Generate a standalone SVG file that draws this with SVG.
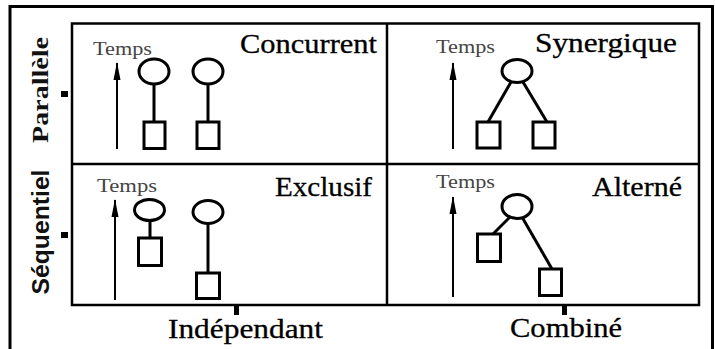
<svg xmlns="http://www.w3.org/2000/svg" width="715" height="349" viewBox="0 0 715 349">
  <style>
    .frame { fill: none; stroke: #000; stroke-width: 3; }
    .grid { fill: none; stroke: #000; stroke-width: 2.5; }
    .shape { fill: #fff; stroke: #000; stroke-width: 3; }
    .link { fill: none; stroke: #000; stroke-width: 3; }
    .axis { fill: none; stroke: #000; stroke-width: 2; }
    .tick { fill: #000; }
    .title { font-family: "Liberation Serif", "Times New Roman", serif; font-size: 27px; fill: #000; stroke: #000; stroke-width: 0.3; }
    .time { font-family: "Liberation Serif", "Times New Roman", serif; font-size: 19px; fill: #444; }
    .row { font-family: "Liberation Serif", "Times New Roman", serif; font-size: 24px; font-weight: bold; fill: #111; }
    .row-sans { font-family: "Liberation Sans", Arial, sans-serif; font-size: 23px; font-weight: bold; fill: #111; }
    .col { font-family: "Liberation Serif", "Times New Roman", serif; font-size: 28px; fill: #000; stroke: #000; stroke-width: 0.3; }
  </style>
  <defs>
    <marker id="arrow" viewBox="0 0 18 8" refX="17" refY="4" markerWidth="18" markerHeight="8" markerUnits="userSpaceOnUse" orient="auto">
      <path d="M0 0.5 L18 4 L0 7.5 Z" fill="#000"/>
    </marker>
  </defs>

  <!-- page frame -->
  <path class="frame" d="M10 349 V6.5 H712.5 V349"/>

  <!-- 2x2 grid -->
  <g id="grid">
    <rect class="grid" x="72" y="23.5" width="627" height="281.5"/>
    <line class="grid" x1="387" y1="23.5" x2="387" y2="305"/>
    <line class="grid" x1="72" y1="164" x2="699" y2="164"/>
    <rect class="tick" x="61" y="91" width="7" height="6"/>
    <rect class="tick" x="61" y="232" width="7" height="6"/>
    <rect class="tick" x="234" y="306" width="5" height="9"/>
    <rect class="tick" x="562" y="306" width="5" height="9"/>
  </g>

  <!-- axis labels -->
  <g id="label-parallele"><text class="row" transform="translate(48,90) rotate(-90)" text-anchor="middle" textLength="106" lengthAdjust="spacingAndGlyphs">Parallèle</text></g>
  <g id="label-sequentiel"><text class="row-sans" transform="translate(49,232) rotate(-90)" text-anchor="middle" textLength="125" lengthAdjust="spacingAndGlyphs">Séquentiel</text></g>
  <g id="label-independant"><text class="col" x="168" y="338" textLength="155" lengthAdjust="spacingAndGlyphs">Indépendant</text></g>
  <g id="label-combine"><text class="col" x="510" y="337" textLength="112" lengthAdjust="spacingAndGlyphs">Combiné</text></g>

  <!-- cell titles -->
  <g id="title-concurrent"><text class="title" x="240" y="53" textLength="137" lengthAdjust="spacingAndGlyphs">Concurrent</text></g>
  <g id="title-synergique"><text class="title" x="535" y="52" textLength="142" lengthAdjust="spacingAndGlyphs">Synergique</text></g>
  <g id="title-exclusif"><text class="title" x="275" y="196" textLength="97" lengthAdjust="spacingAndGlyphs">Exclusif</text></g>
  <g id="title-alterne"><text class="title" x="592" y="196" textLength="90" lengthAdjust="spacingAndGlyphs">Alterné</text></g>

  <!-- time axes -->
  <g id="time-concurrent">
    <text class="time" x="93" y="55" textLength="59" lengthAdjust="spacingAndGlyphs">Temps</text>
    <line class="axis" x1="117" y1="149" x2="117" y2="63" marker-end="url(#arrow)"/>
  </g>
  <g id="time-synergique">
    <text class="time" x="436" y="53" textLength="59" lengthAdjust="spacingAndGlyphs">Temps</text>
    <line class="axis" x1="453" y1="149" x2="453" y2="63" marker-end="url(#arrow)"/>
  </g>
  <g id="time-exclusif">
    <text class="time" x="97" y="192" textLength="60" lengthAdjust="spacingAndGlyphs">Temps</text>
    <line class="axis" x1="115" y1="300" x2="115" y2="200" marker-end="url(#arrow)"/>
  </g>
  <g id="time-alterne">
    <text class="time" x="436" y="188" textLength="59" lengthAdjust="spacingAndGlyphs">Temps</text>
    <line class="axis" x1="453" y1="297" x2="453" y2="197" marker-end="url(#arrow)"/>
  </g>

  <!-- connectors -->
  <g id="connectors">
    <line class="link" x1="154" y1="84" x2="154" y2="122"/>
    <line class="link" x1="208" y1="84" x2="208" y2="122"/>
    <line class="link" x1="511" y1="82" x2="488" y2="122"/>
    <line class="link" x1="523" y1="82" x2="547" y2="122"/>
    <line class="link" x1="150" y1="221" x2="150" y2="238"/>
    <line class="link" x1="208" y1="224" x2="208" y2="273"/>
    <line class="link" x1="510" y1="217" x2="493" y2="234"/>
    <line class="link" x1="522" y1="217" x2="552" y2="269"/>
  </g>

  <!-- Concurrent -->
  <g id="conc-e1"><ellipse class="shape" cx="154" cy="71.5" rx="15" ry="12.5"/></g>
  <g id="conc-e2"><ellipse class="shape" cx="208" cy="71.5" rx="15" ry="12.5"/></g>
  <g id="conc-s1"><rect class="shape" x="144" y="122" width="21" height="26.5"/></g>
  <g id="conc-s2"><rect class="shape" x="197" y="122" width="22" height="26.5"/></g>

  <!-- Synergique -->
  <g id="syn-e"><ellipse class="shape" cx="517" cy="71" rx="15" ry="11.5"/></g>
  <g id="syn-s1"><rect class="shape" x="477" y="122" width="23" height="26"/></g>
  <g id="syn-s2"><rect class="shape" x="533" y="122" width="22" height="26"/></g>

  <!-- Exclusif -->
  <g id="excl-e1"><ellipse class="shape" cx="149.5" cy="210" rx="15" ry="10.5"/></g>
  <g id="excl-e2"><ellipse class="shape" cx="208" cy="212" rx="15" ry="11.5"/></g>
  <g id="excl-s1"><rect class="shape" x="138.5" y="238" width="23" height="27.5"/></g>
  <g id="excl-s2"><rect class="shape" x="196.5" y="273" width="23" height="25.5"/></g>

  <!-- Alterné -->
  <g id="alt-e"><ellipse class="shape" cx="517" cy="206.5" rx="15" ry="12"/></g>
  <g id="alt-s1"><rect class="shape" x="477.5" y="234" width="23" height="27.5"/></g>
  <g id="alt-s2"><rect class="shape" x="539.5" y="269" width="22" height="26.5"/></g>
</svg>
